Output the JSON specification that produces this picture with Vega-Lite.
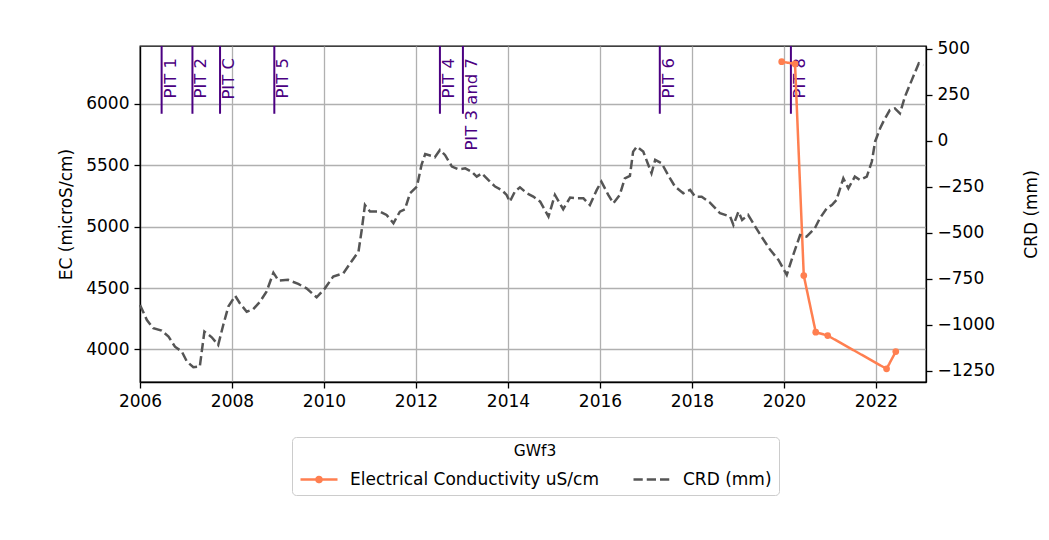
{
  "$schema": "https://vega.github.io/schema/vega-lite/v6.json",
  "width": 786,
  "height": 336,
  "autosize": {"type": "none"},
  "padding": {"left": 140, "top": 46, "right": 123, "bottom": 158},
  "background": "white",
  "config": {
    "font": "DejaVu Sans",
    "view": {"stroke": "black", "strokeWidth": 1.3},
    "axis": {
      "labelFont": "DejaVu Sans", "labelFontSize": 17, "labelColor": "black",
      "titleFont": "DejaVu Sans", "titleFontSize": 17, "titleFontWeight": "normal", "titleColor": "black",
      "domainColor": "black", "domainWidth": 1.3, "tickColor": "black", "tickWidth": 1.3, "tickSize": 6,
      "labelPadding": 5, "gridColor": "#b0b0b0", "gridWidth": 1.3, "gridOpacity": 1
    }
  },
  "datasets": {
    "pits": [
      {"year": 2006.47, "label": "PIT 1"},
      {"year": 2007.14, "label": "PIT 2"},
      {"year": 2007.74, "label": "PIT C"},
      {"year": 2008.92, "label": "PIT 5"},
      {"year": 2012.52, "label": "PIT 4"},
      {"year": 2013.02, "label": "PIT 3 and 7"},
      {"year": 2017.30, "label": "PIT 6"},
      {"year": 2020.15, "label": "PIT 8"}
    ],
    "ec": [
      {"year": 2019.95, "ec": 6344},
      {"year": 2020.24, "ec": 6326},
      {"year": 2020.43, "ec": 4602},
      {"year": 2020.69, "ec": 4141},
      {"year": 2020.95, "ec": 4113},
      {"year": 2022.23, "ec": 3842},
      {"year": 2022.43, "ec": 3983}
    ],
    "crd": [
      {"year": 2006.00, "crd": -891},
      {"year": 2006.15, "crd": -973},
      {"year": 2006.29, "crd": -1018},
      {"year": 2006.47, "crd": -1031},
      {"year": 2006.62, "crd": -1063},
      {"year": 2006.76, "crd": -1118},
      {"year": 2006.91, "crd": -1145},
      {"year": 2007.02, "crd": -1199},
      {"year": 2007.16, "crd": -1230},
      {"year": 2007.30, "crd": -1226},
      {"year": 2007.40, "crd": -1036},
      {"year": 2007.56, "crd": -1067},
      {"year": 2007.70, "crd": -1109},
      {"year": 2007.81, "crd": -1000},
      {"year": 2007.92, "crd": -900},
      {"year": 2008.07, "crd": -842},
      {"year": 2008.17, "crd": -882},
      {"year": 2008.32, "crd": -928},
      {"year": 2008.46, "crd": -915},
      {"year": 2008.61, "crd": -873},
      {"year": 2008.75, "crd": -819},
      {"year": 2008.90, "crd": -716},
      {"year": 2009.01, "crd": -759},
      {"year": 2009.22, "crd": -755},
      {"year": 2009.44, "crd": -777},
      {"year": 2009.62, "crd": -801},
      {"year": 2009.84, "crd": -850},
      {"year": 2010.02, "crd": -801},
      {"year": 2010.20, "crd": -737},
      {"year": 2010.42, "crd": -719},
      {"year": 2010.57, "crd": -665},
      {"year": 2010.75, "crd": -601},
      {"year": 2010.82, "crd": -484},
      {"year": 2010.89, "crd": -348},
      {"year": 2011.00, "crd": -384},
      {"year": 2011.22, "crd": -384},
      {"year": 2011.36, "crd": -402},
      {"year": 2011.51, "crd": -447},
      {"year": 2011.65, "crd": -384},
      {"year": 2011.76, "crd": -371},
      {"year": 2011.87, "crd": -284},
      {"year": 2012.02, "crd": -248},
      {"year": 2012.12, "crd": -130},
      {"year": 2012.20, "crd": -71},
      {"year": 2012.34, "crd": -82},
      {"year": 2012.41, "crd": -89},
      {"year": 2012.52, "crd": -49},
      {"year": 2012.63, "crd": -76},
      {"year": 2012.78, "crd": -139},
      {"year": 2012.92, "crd": -154},
      {"year": 2013.07, "crd": -149},
      {"year": 2013.21, "crd": -167},
      {"year": 2013.32, "crd": -194},
      {"year": 2013.43, "crd": -176},
      {"year": 2013.57, "crd": -212},
      {"year": 2013.72, "crd": -248},
      {"year": 2013.86, "crd": -266},
      {"year": 2013.97, "crd": -293},
      {"year": 2014.04, "crd": -330},
      {"year": 2014.15, "crd": -275},
      {"year": 2014.26, "crd": -252},
      {"year": 2014.41, "crd": -284},
      {"year": 2014.55, "crd": -302},
      {"year": 2014.70, "crd": -330},
      {"year": 2014.88, "crd": -411},
      {"year": 2015.02, "crd": -293},
      {"year": 2015.20, "crd": -371},
      {"year": 2015.35, "crd": -308},
      {"year": 2015.49, "crd": -312},
      {"year": 2015.64, "crd": -312},
      {"year": 2015.78, "crd": -348},
      {"year": 2015.93, "crd": -266},
      {"year": 2016.03, "crd": -221},
      {"year": 2016.18, "crd": -293},
      {"year": 2016.29, "crd": -339},
      {"year": 2016.43, "crd": -293},
      {"year": 2016.54, "crd": -203},
      {"year": 2016.65, "crd": -190},
      {"year": 2016.72, "crd": -58},
      {"year": 2016.80, "crd": -31},
      {"year": 2016.94, "crd": -58},
      {"year": 2017.12, "crd": -176},
      {"year": 2017.20, "crd": -103},
      {"year": 2017.34, "crd": -121},
      {"year": 2017.48, "crd": -185},
      {"year": 2017.63, "crd": -248},
      {"year": 2017.81, "crd": -284},
      {"year": 2017.96, "crd": -266},
      {"year": 2018.07, "crd": -303},
      {"year": 2018.21, "crd": -303},
      {"year": 2018.39, "crd": -335},
      {"year": 2018.61, "crd": -393},
      {"year": 2018.83, "crd": -411},
      {"year": 2018.90, "crd": -457},
      {"year": 2019.01, "crd": -384},
      {"year": 2019.09, "crd": -429},
      {"year": 2019.22, "crd": -402},
      {"year": 2019.33, "crd": -447},
      {"year": 2019.51, "crd": -520},
      {"year": 2019.70, "crd": -592},
      {"year": 2019.88, "crd": -647},
      {"year": 2020.06, "crd": -728},
      {"year": 2020.20, "crd": -620},
      {"year": 2020.35, "crd": -511},
      {"year": 2020.49, "crd": -520},
      {"year": 2020.67, "crd": -475},
      {"year": 2020.78, "crd": -420},
      {"year": 2020.93, "crd": -366},
      {"year": 2021.04, "crd": -348},
      {"year": 2021.14, "crd": -321},
      {"year": 2021.29, "crd": -203},
      {"year": 2021.40, "crd": -257},
      {"year": 2021.54, "crd": -194},
      {"year": 2021.65, "crd": -212},
      {"year": 2021.80, "crd": -194},
      {"year": 2021.91, "crd": -112},
      {"year": 2021.98, "crd": -4},
      {"year": 2022.09, "crd": 69},
      {"year": 2022.16, "crd": 105},
      {"year": 2022.30, "crd": 168},
      {"year": 2022.41, "crd": 177},
      {"year": 2022.52, "crd": 150},
      {"year": 2022.63, "crd": 241},
      {"year": 2022.78, "crd": 332},
      {"year": 2022.93, "crd": 422},
      {"year": 2023.03, "crd": 413}
    ]
  },
  "layer": [
    {
      "layer": [
        {
          "data": {"name": "pits"},
          "mark": {"type": "rule", "color": "#4b0082", "strokeWidth": 2},
          "encoding": {
            "x": {"field": "year", "type": "quantitative", "scale": {"domain": [2006, 2023.087], "nice": false, "zero": false}, "axis": {"values": [2006, 2008, 2010, 2012, 2014, 2016, 2018, 2020, 2022], "format": "d", "title": null, "grid": true, "labelFlush": false}},
            "y": {"datum": 6472, "type": "quantitative", "scale": {"domain": [3735, 6472], "nice": false, "zero": false}, "axis": {"orient": "left", "title": "EC (microS/cm)", "values": [4000, 4500, 5000, 5500, 6000], "format": "d", "grid": true, "titlePadding": 10}},
            "y2": {"datum": 5920}
          }
        },
        {
          "data": {"name": "pits"},
          "mark": {"type": "text", "angle": 270, "align": "right", "baseline": "top", "color": "#4b0082", "fontSize": 16.5, "font": "DejaVu Sans", "dy": 1},
          "encoding": {
            "x": {"field": "year", "type": "quantitative"},
            "y": {"datum": 6375, "type": "quantitative"},
            "text": {"field": "label"}
          }
        },
        {
          "data": {"name": "ec"},
          "mark": {"type": "line", "strokeWidth": 2.5, "point": {"filled": true, "size": 45}},
          "encoding": {
            "x": {"field": "year", "type": "quantitative"},
            "y": {"field": "ec", "type": "quantitative"},
            "color": {
              "datum": "Electrical Conductivity uS/cm",
              "scale": {"domain": ["Electrical Conductivity uS/cm", "CRD (mm)"], "range": ["#ff7f50", "#555555"]},
              "legend": {"title": "GWf3", "orient": "none", "legendX": 152, "legendY": 391, "direction": "horizontal", "columns": 2, "titleOrient": "top", "titleAnchor": "middle", "titleFontWeight": "normal", "titleFontSize": 15.5, "titleFont": "DejaVu Sans", "titleColor": "black", "labelFont": "DejaVu Sans", "labelFontSize": 17, "labelColor": "black", "labelLimit": 0, "strokeColor": "#cccccc", "fillColor": "white", "cornerRadius": 4, "padding": 7, "columnPadding": 29, "symbolSize": 1369, "symbolStrokeWidth": 2.5, "labelOffset": 11, "titlePadding": 0,
                "encode": {"symbols": {"update": {"shape": {"signal": "datum.value === 'CRD (mm)' ? 'stroke' : 'M-1,0H1M-0.14,0A0.14,0.14,0,1,0,0.14,0A0.14,0.14,0,1,0,-0.14,0Z'"}, "fill": {"signal": "datum.value === 'CRD (mm)' ? 'transparent' : '#ff7f50'"}}}}}
            },
            "strokeDash": {
              "datum": "Electrical Conductivity uS/cm",
              "scale": {"domain": ["Electrical Conductivity uS/cm", "CRD (mm)"], "range": [[1, 0], [9.25, 4]]},
              "legend": {"title": "GWf3", "orient": "none", "legendX": 152, "legendY": 391, "direction": "horizontal", "columns": 2, "titleOrient": "top", "titleAnchor": "middle", "titleFontWeight": "normal", "titleFontSize": 15.5, "titleFont": "DejaVu Sans", "titleColor": "black", "labelFont": "DejaVu Sans", "labelFontSize": 17, "labelColor": "black", "labelLimit": 0, "strokeColor": "#cccccc", "fillColor": "white", "cornerRadius": 4, "padding": 7, "columnPadding": 29, "symbolSize": 1369, "symbolStrokeWidth": 2.5, "labelOffset": 11, "titlePadding": 0}
            }
          }
        }
      ]
    },
    {
      "data": {"name": "crd"},
      "mark": {"type": "line", "strokeWidth": 2.5},
      "encoding": {
        "x": {"field": "year", "type": "quantitative"},
        "y": {"field": "crd", "type": "quantitative", "scale": {"domain": [-1310, 516], "nice": false, "zero": false}, "axis": {"orient": "right", "title": "CRD (mm)", "titleAngle": 270, "values": [-1250, -1000, -750, -500, -250, 0, 250, 500], "format": "d", "grid": false, "titlePadding": 46}},
        "color": {"datum": "CRD (mm)"},
        "strokeDash": {"datum": "CRD (mm)"}
      }
    }
  ],
  "resolve": {"scale": {"y": "independent"}}
}
